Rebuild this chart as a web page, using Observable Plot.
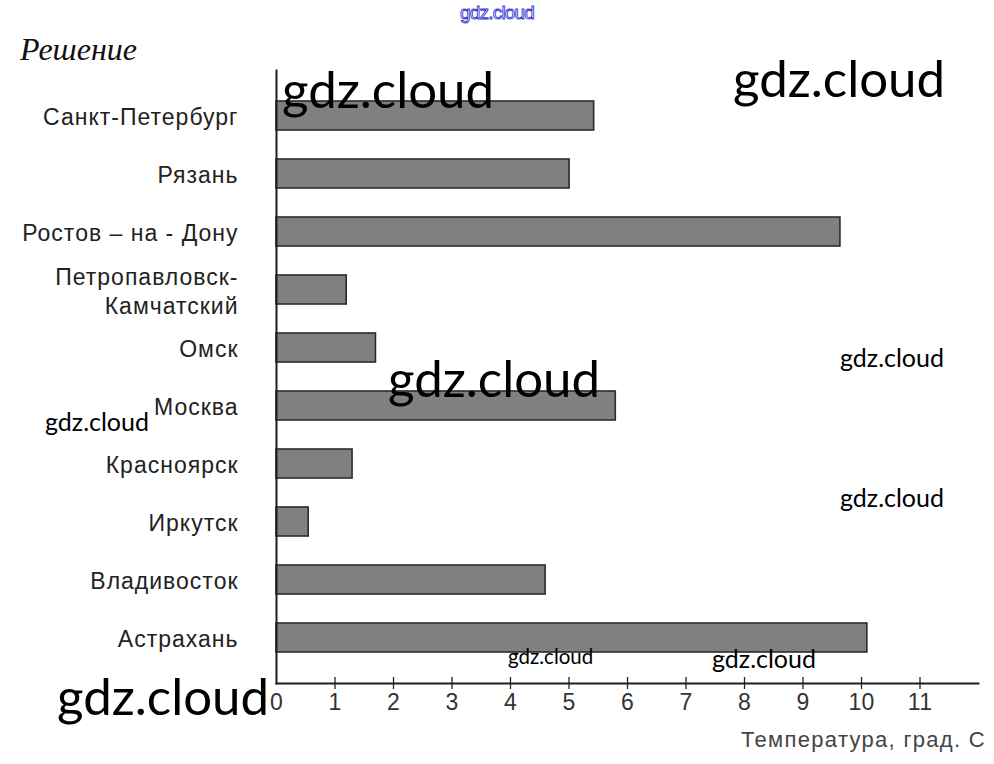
<!DOCTYPE html>
<html>
<head>
<meta charset="utf-8">
<script src="https://cdn.jsdelivr.net/npm/d3@7"></script>
<script src="https://cdn.jsdelivr.net/npm/@observablehq/plot@0.6"></script>
<style>
  body { margin: 0; background: #fff; }
  #wrap { position: relative; width: 994px; height: 764px; }
  #wrap > svg { position: absolute; left: 0; top: 0; }
  #overlay { position: absolute; left: 0; top: 0; pointer-events: none; }
  #wrap g[aria-label="y-axis tick label"] text { letter-spacing: 1px; }
  #wrap g[aria-label="x-axis tick label"] text { letter-spacing: 0.3px; }
</style>
</head>
<body>
<div id="wrap"></div>
<script>
const cities = ["Санкт-Петербург", "Рязань", "Ростов – на - Дону", "Петропавловск-\nКамчатский", "Омск", "Москва", "Красноярск", "Иркутск", "Владивосток", "Астрахань"];
const temps = [5.43, 5.01, 9.64, 1.2, 1.7, 5.8, 1.3, 0.55, 4.6, 10.1];
const tickValues = [0, 1, 2, 3, 4, 5, 6, 7, 8, 9, 10, 11];
const tickMarks = [1, 2, 3, 4, 5, 6, 7, 8, 9, 10, 11];
const titleText = "Решение";
const xLabel = "Температура, град. С";
const watermarks = [
  {t: "gdz.cloud", x: 282, y: 108, s: 51},
  {t: "gdz.cloud", x: 733, y: 97, s: 51},
  {t: "gdz.cloud", x: 388, y: 397, s: 51},
  {t: "gdz.cloud", x: 57, y: 715, s: 51},
  {t: "gdz.cloud", x: 840, y: 367, s: 25},
  {t: "gdz.cloud", x: 45, y: 431, s: 25},
  {t: "gdz.cloud", x: 840, y: 507, s: 25},
  {t: "gdz.cloud", x: 508, y: 664, s: 20.5},
  {t: "gdz.cloud", x: 712, y: 668, s: 25}
];

const data = cities.map((c, i) => ({city: c, value: temps[i]}));

const W = 994, H = 764, mT = 70, mB = 81, mL = 276, mR = 16;
const frameH = H - mT - mB;

const chart = Plot.plot({
  width: W,
  height: H,
  marginTop: mT,
  marginBottom: mB,
  marginLeft: mL,
  marginRight: mR,
  style: {fontFamily: "'Liberation Sans', Arial, sans-serif", background: "transparent", color: "#222"},
  x: {domain: [0, 12], axis: null},
  y: {domain: cities, padding: 0.5, axis: null},
  marks: [
    Plot.barX(data, {x: "value", y: "city", fill: "#808080", stroke: "#2b2b2b", strokeWidth: 1.6}),
    Plot.ruleX(tickMarks, {x: d => d, stroke: "#222", strokeWidth: 1.3, insetTop: frameH - 6, insetBottom: -6}),
    Plot.frame({anchor: "bottom", stroke: "#1e1e1e", strokeWidth: 2}),
    Plot.frame({anchor: "left", stroke: "#1e1e1e", strokeWidth: 2}),
    Plot.axisX(tickValues, {label: null, tickSize: 0, tickPadding: 10, fontSize: 23, fill: "#333", tickFormat: d => String(d)}),
    Plot.axisY({label: null, tickSize: 0, tickPadding: 38, fontSize: 23, fill: "#222", lineHeight: 1.26, tickFormat: d => d})
  ]
});
document.getElementById("wrap").appendChild(chart);

// overlay: title, x label, watermarks (as real text)
const ov = d3.select("#wrap").append("svg").attr("id", "overlay").attr("width", W).attr("height", H);
ov.append("text").attr("x", 20).attr("y", 60)
  .style("font-family", "'Liberation Serif', 'DejaVu Serif', serif")
  .style("font-style", "italic").style("font-size", "32px").attr("fill", "#111").text(titleText);
ov.append("text").attr("x", 986).attr("y", 747).attr("text-anchor", "end")
  .style("font-family", "'Liberation Sans', Arial, sans-serif").style("font-size", "22px")
  .style("letter-spacing", "1.3px").attr("fill", "#444").text(xLabel);
ov.append("text").attr("x", 460).attr("y", 19)
  .style("font-family", "'Liberation Sans', Arial, sans-serif").style("font-size", "19px")
  .attr("fill", "#fff").attr("stroke", "#3535d0").attr("stroke-width", 0.9)
  .style("letter-spacing", "-0.8px").text("gdz.cloud");
ov.selectAll("text.wm").data(watermarks).join("text").attr("class", "wm")
  .attr("x", d => d.x).attr("y", d => d.y)
  .style("font-family", "Lato, sans-serif").style("font-size", d => d.s + "px")
  .attr("fill", "#000").text(d => d.t);
</script>
</body>
</html>
